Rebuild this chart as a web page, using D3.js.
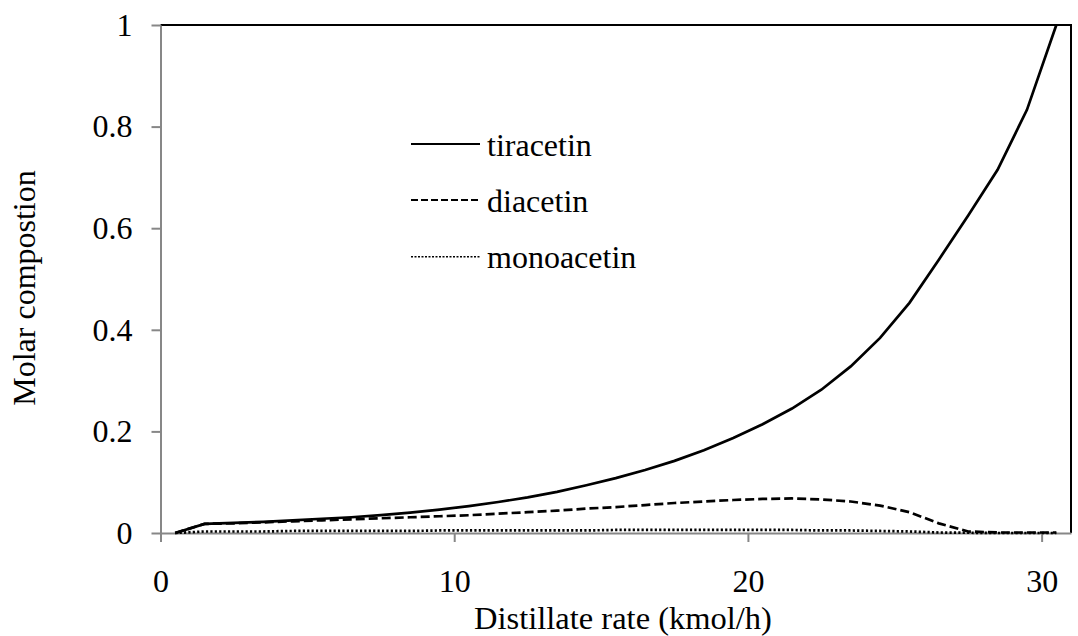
<!DOCTYPE html>
<html>
<head>
<meta charset="utf-8">
<script src="https://cdn.jsdelivr.net/npm/d3@7"></script>
<style>
  body { margin: 0; background: #fff; }
</style>
</head>
<body>
<svg width="1078" height="636"></svg>
<script>
// distillate rate (kmol/h), one point per 1 kmol/h
const distillate = [0.5, 1.5, 2.5, 3.5, 4.5, 5.5, 6.5, 7.5, 8.5, 9.5, 10.5, 11.5, 12.5, 13.5, 14.5, 15.5,
  16.5, 17.5, 18.5, 19.5, 20.5, 21.5, 22.5, 23.5, 24.5, 25.5, 26.5, 27.5, 28.5, 29.5, 30.5];

const tiracetin = [0, 0.018, 0.020, 0.022, 0.025, 0.028, 0.031, 0.035, 0.040, 0.046, 0.053, 0.061, 0.070, 0.081,
  0.094, 0.108, 0.124, 0.142, 0.163, 0.187, 0.214, 0.245, 0.282, 0.328, 0.384, 0.453, 0.538, 0.625, 0.715, 0.833, 1.0];

const diacetin = [0, 0.018, 0.019, 0.021, 0.023, 0.025, 0.027, 0.029, 0.031, 0.033, 0.035, 0.038, 0.041, 0.044,
  0.048, 0.051, 0.055, 0.059, 0.062, 0.065, 0.067, 0.068, 0.066, 0.062, 0.054, 0.041, 0.019, 0.003, 0.001, 0.001, 0.001];

const monoacetin = [0, 0.003, 0.003, 0.003, 0.004, 0.004, 0.004, 0.004, 0.004, 0.005, 0.005, 0.005, 0.005, 0.005,
  0.005, 0.006, 0.006, 0.006, 0.006, 0.006, 0.006, 0.006, 0.005, 0.005, 0.004, 0.003, 0.001, 0.0005, 0, 0, 0];

const xTicks = [0, 10, 20, 30];
const yTicks = [0, 0.2, 0.4, 0.6, 0.8, 1];

const seriesNames = ["tiracetin", "diacetin", "monoacetin"];
const seriesValues = [tiracetin, diacetin, monoacetin];
const dashes = [null, "9,4", "2.2,2.2"];      // line style for each series
const legendDashes = [null, "7,3", "2,1.5"];

const serif = '"Liberation Serif"';

// plot area
const margin = {top: 25, right: 7, bottom: 103, left: 160.5};
const width = 1078 - margin.left - margin.right,
      height = 636 - margin.top - margin.bottom;

const svg = d3.select("svg")
  .attr("font-family", serif)
  .append("g")
  .attr("transform", "translate(" + margin.left + "," + margin.top + ")");

const x = d3.scaleLinear().domain([0, 31]).range([0, width]);
const y = d3.scaleLinear().domain([0, 1]).range([height, 0]);

// top and right border are black
svg.append("path")
  .attr("d", "M0,0H" + width + "V" + height)
  .attr("fill", "none")
  .attr("stroke", "#000")
  .attr("stroke-width", 2);

// x axis
const xAxis = svg.append("g")
  .attr("transform", "translate(0," + height + ")")
  .call(d3.axisBottom(x).tickValues(xTicks).tickFormat(d3.format("d"))
    .tickSize(9).tickSizeOuter(0).tickPadding(27));

// y axis
const yAxis = svg.append("g")
  .call(d3.axisLeft(y).tickValues(yTicks).tickFormat(d => String(d))
    .tickSize(9).tickSizeOuter(0).tickPadding(19));

[xAxis, yAxis].forEach(ax => {
  ax.attr("font-family", serif).attr("font-size", 32);
  ax.select(".domain").attr("stroke", "#878787").attr("stroke-width", 2);
  ax.selectAll(".tick line").attr("stroke", "#878787").attr("stroke-width", 2);
  ax.selectAll(".tick text").attr("fill", "#000").attr("font-family", serif);
});

// the lines
const line = d3.line()
  .x((d, i) => x(distillate[i]))
  .y(d => y(d));

seriesValues.forEach((vals, k) => {
  svg.append("path")
    .datum(vals)
    .attr("d", line)
    .attr("fill", "none")
    .attr("stroke", "#000")
    .attr("stroke-width", 2.7)
    .attr("stroke-dasharray", dashes[k]);
});

// legend
const legendY = [119, 175, 231.7];
seriesNames.forEach((name, k) => {
  const g = svg.append("g").attr("transform", "translate(" + (411 - margin.left) + "," + legendY[k] + ")");
  g.append("line")
    .attr("x1", 0).attr("x2", 69)
    .attr("stroke", "#000")
    .attr("stroke-width", k === 2 ? 1.6 : 2)
    .attr("stroke-dasharray", legendDashes[k]);
  g.append("text")
    .attr("x", 76)
    .attr("y", 11.5)
    .attr("font-family", serif)
    .attr("font-size", 32)
    .text(name);
});

// axis titles
svg.append("text")
  .attr("x", 623 - margin.left)
  .attr("y", height + 96)
  .attr("text-anchor", "middle")
  .attr("font-family", serif)
  .attr("font-size", 32.5)
  .text("Distillate rate (kmol/h)");

svg.append("text")
  .attr("transform", "rotate(-90)")
  .attr("x", -(288 - margin.top))
  .attr("y", 35 - margin.left)
  .attr("text-anchor", "middle")
  .attr("font-family", serif)
  .attr("font-size", 32)
  .text("Molar compostion");
</script>
</body>
</html>
